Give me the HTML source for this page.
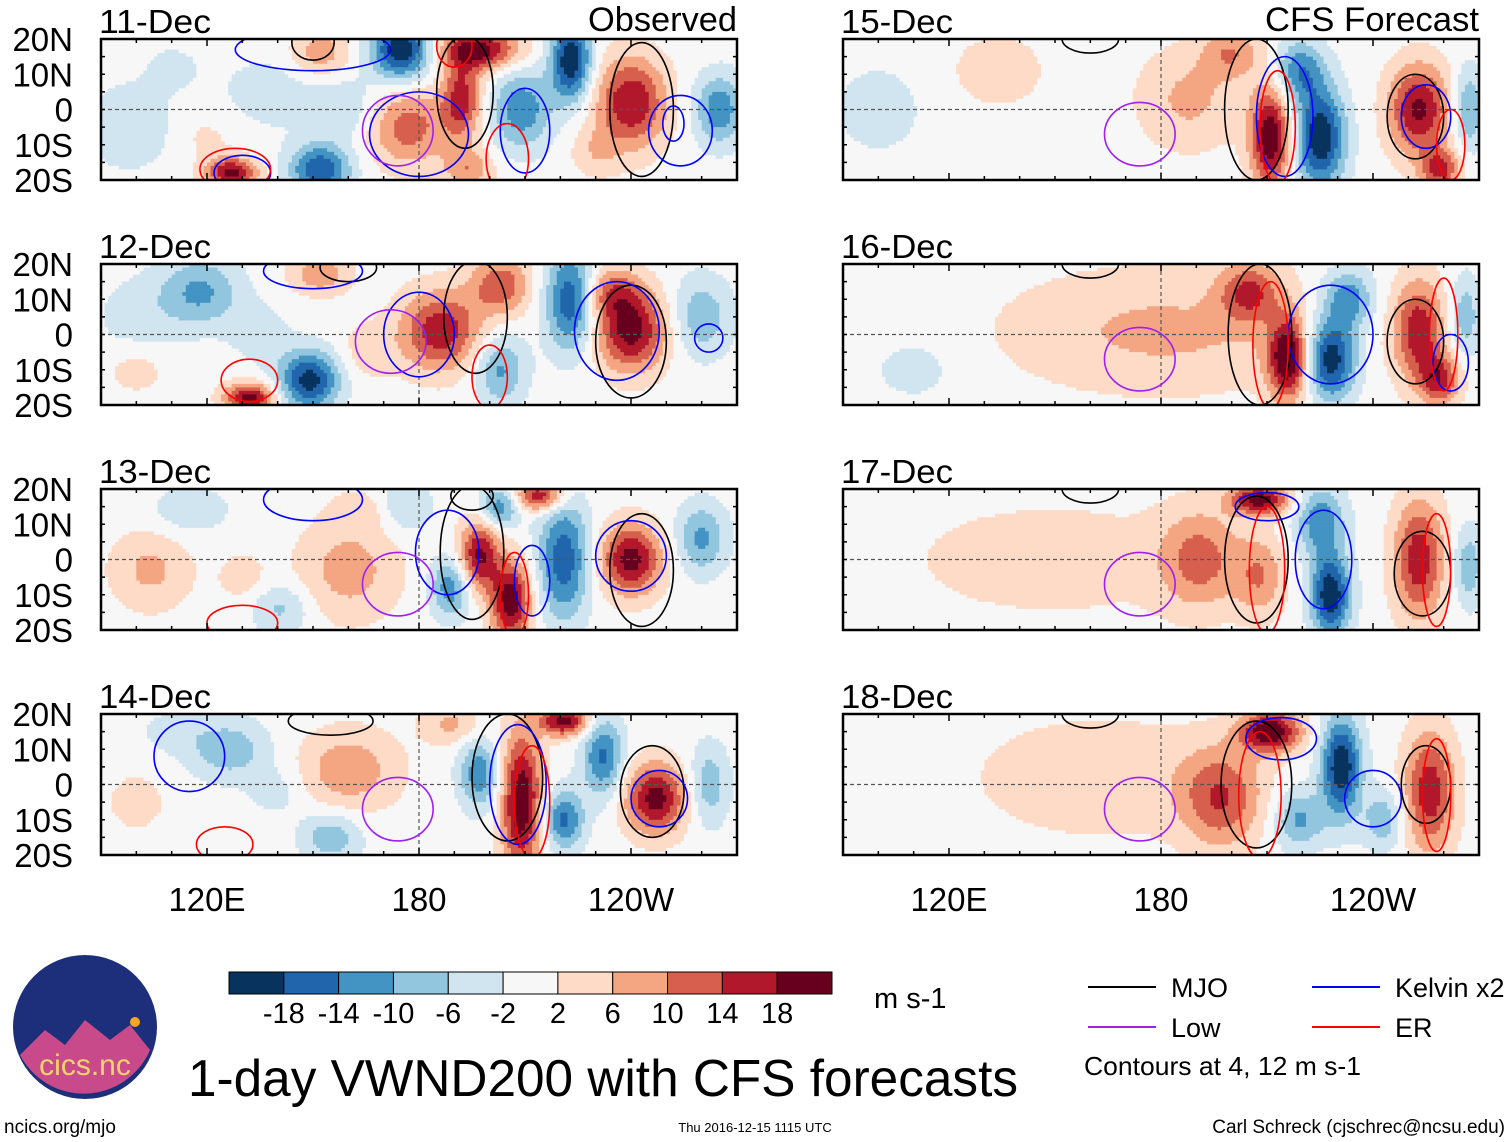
<!DOCTYPE html>
<html><head><meta charset="utf-8"><style>
body{margin:0;background:#fff;width:1510px;height:1142px;position:relative;overflow:hidden;font-family:"Liberation Sans",sans-serif;}
</style></head><body>
<svg id="svg" width="1510" height="1142" style="position:absolute;left:0;top:0"></svg>
<script>
// Colorbar levels and colors
const levels=[-18,-14,-10,-6,-2,2,6,10,14,18];
const colors=['#08335e','#2166ac','#4393c3','#92c5de','#d1e5f0','#f7f7f7','#fddbc7','#f4a582','#d6604d','#b2182b','#67001f'];
const lonTicks=[120,180,240];
const lonTickLabels=['120E','180','120W'];
const latTicks=[20,10,0,-10,-20];
const latTickLabels=['20N','10N','0','10S','20S'];
const panelTitles=['11-Dec','12-Dec','13-Dec','14-Dec','15-Dec','16-Dec','17-Dec','18-Dec'];
// anomaly blobs: [lon, lat, amplitude(m/s), sigmaLon, sigmaLat]
const blobs0=[[175,17,-22,6,6],[197,17,20,8,4],[192,3,16,4,8],[177,-5,12,8,8],[223,14,-22,4,8],[209,0,-13,6,8],[240,2,18,7,9],[265,0,-13,5,7],[152,-17,-18,6,5],[127,-18,20,5,3],[98,-5,-6,8,8],[152,16,9,6,5],[194,-17,9,5,4],[140,5,-4,12,8],[120,-8,3,6,5],[110,12,-3,6,5],[160,0,-5,6,6],[230,-12,5,5,5]];
const blobs1=[[118,12,-11,8,7],[186,1,17,8,8],[203,14,13,6,6],[223,10,-18,5,10],[203,-10,-11,5,7],[240,1,20,7,8],[234,12,11,6,5],[260,5,-9,6,8],[149,-13,-20,6,6],[132,-18,20,5,3],[152,17,9,6,4],[100,5,-4,8,8],[100,-10,4,6,5],[165,-5,4,6,6],[135,0,-4,6,6]];
const blobs2=[[197,1,19,4,7],[206,-12,21,4,8],[189,-8,-13,4,6],[221,0,-17,5,12],[240,0,20,6,7],[260,6,-11,5,7],[214,18,18,5,3],[203,15,-13,4,4],[160,-3,8,10,10],[175,15,-7,6,5],[141,-14,-7,6,5],[104,-3,7,8,8],[115,14,-5,8,5],[130,-5,4,5,5],[165,14,5,6,4]];
const blobs3=[[209,-5,22,4,14],[221,18,20,5,3],[197,3,-13,4,7],[232,8,-15,4,8],[221,-10,-15,4,6],[247,-4,20,6,7],[262,0,-9,4,8],[160,4,9,10,8],[126,10,-9,8,6],[155,-15,-9,6,5],[189,17,7,6,4],[100,-5,4,6,6],[140,-2,-4,6,5],[110,15,-4,6,4]];
const blobs4=[[211,-8,22,4,10],[225,-8,-22,5,10],[219,11,-13,5,6],[253,0,19,6,9],[259,-17,15,4,4],[267,0,-11,3,8],[188,3,7,10,10],[134,11,4,10,8],[100,0,-5,8,8],[200,16,9,6,5]];
const blobs5=[[216,-7,22,4,8],[228,-7,-22,5,8],[233,10,-13,5,6],[205,12,13,6,6],[253,1,17,5,10],[259,-13,15,4,5],[180,1,7,30,12],[266,5,-9,3,8],[110,-10,-4,8,6]];
const blobs6=[[208,17,20,6,3],[228,-10,-22,4,8],[225,11,-13,5,7],[191,0,11,8,10],[253,0,17,5,12],[208,-5,9,5,8],[149,0,4,30,12],[267,-2,-9,3,8]];
const blobs7=[[211,15,22,6,4],[231,5,-22,4,10],[219,-10,-11,5,6],[197,-4,13,8,10],[256,-2,17,5,12],[163,2,5,25,12],[243,-10,-9,4,6]];
const allBlobs=[blobs0,blobs1,blobs2,blobs3,blobs4,blobs5,blobs6,blobs7];
// contours: [type, lon, lat, radiusLon, radiusLat]
const cont0=[['mjo',243,0,9,19],['mjo',193,5,8,16],['mjo',150,19,6,5],['kelvin',180,-7,14,12],['kelvin',210,-6,7,12],['kelvin',254,-6,9,10],['kelvin',252,-4,3,5],['kelvin',150,17,22,6],['kelvin',130,-18,8,5],['low',174,-6,10,10],['er',205,-14,6,10],['er',128,-17,10,6],['er',190,18,5,6]];
const cont1=[['mjo',240,-2,10,16],['mjo',196,5,9,16],['mjo',160,19,8,4],['kelvin',180,0,10,12],['kelvin',236,1,12,14],['kelvin',262,-1,4,4],['kelvin',150,18,14,5],['low',172,-2,10,9],['er',132,-13,8,6],['er',200,-12,5,9]];
const cont2=[['mjo',243,-3,9,16],['mjo',195,2,9,19],['mjo',195,18,6,4],['kelvin',188,2,9,12],['kelvin',240,1,10,10],['kelvin',150,17,14,6],['kelvin',212,-6,5,10],['low',174,-7,10,9],['er',207,-10,4,12],['er',130,-18,10,5]];
const cont3=[['mjo',246,-2,9,13],['mjo',205,2,10,18],['mjo',155,18,12,4],['kelvin',208,0,8,17],['kelvin',248,-4,8,8],['kelvin',115,8,10,10],['low',174,-7,10,9],['er',212,-5,5,16],['er',125,-17,8,5]];
const cont4=[['mjo',252,-2,8,12],['mjo',207,0,9,20],['mjo',160,20,8,4],['kelvin',215,-2,8,17],['kelvin',255,-2,7,9],['low',174,-7,10,9],['er',213,-5,5,16],['er',262,-10,4,10]];
const cont5=[['mjo',252,-2,8,12],['mjo',208,0,9,20],['mjo',160,20,8,4],['kelvin',228,0,12,14],['kelvin',262,-8,5,8],['low',174,-7,10,9],['er',211,-3,5,18],['er',260,0,4,16]];
const cont6=[['mjo',254,-4,8,12],['mjo',207,0,9,18],['mjo',160,20,8,4],['kelvin',226,0,8,14],['kelvin',210,15,9,4],['low',174,-7,10,9],['er',210,-3,5,18],['er',258,-3,4,16]];
const cont7=[['mjo',255,0,7,11],['mjo',207,0,10,18],['mjo',160,20,8,4],['kelvin',240,-4,8,8],['kelvin',214,13,10,6],['low',174,-7,10,9],['er',208,-3,6,18],['er',258,-3,4,16]];
const allCont=[cont0,cont1,cont2,cont3,cont4,cont5,cont6,cont7];
const cCol={mjo:'#000',kelvin:'#0000ff',low:'#a020f0',er:'#ff0000'};

const NS='http://www.w3.org/2000/svg';
const svg=document.getElementById('svg');
function mk(tag,attrs,parent){const e=document.createElementNS(NS,tag);for(const k in attrs)e.setAttribute(k,attrs[k]);(parent||svg).appendChild(e);return e;}
const PW=636,PH=141,LON0=90,LON1=270;
const colX=[101,843],rowY=[39,264,489,714];
const FONT='Liberation Sans, sans-serif';
function xS(lon,x0){return x0+(lon-LON0)/(LON1-LON0)*PW;}
function yS(lat,y0){return y0+(20-lat)/40*PH;}
function colorFor(v){let i=0;while(i<levels.length&&v>=levels[i])i++;return colors[i];}

for(let p=0;p<8;p++){
  const x0=colX[p<4?0:1],y0=rowY[p%4];
  const g=mk('g',{});
  
  
  const clipId='clip'+p;
  const cp=mk('clipPath',{id:clipId},g);mk('rect',{x:x0,y:y0,width:PW,height:PH},cp);
  const field=mk('g',{'clip-path':'url(#'+clipId+')'},g);
  
  
  const bl=allBlobs[p];
  const dLon=1,dLat=1;
  for(let lat=20;lat>-20;lat-=dLat){
    let runStart=null,runCol=null;
    for(let lon=LON0;lon<=LON1+dLon;lon+=dLon){
      let v=0;const lc=lon+dLon/2,la=lat-dLat/2;
      for(const b of bl){const dx=(lc-b[0])/b[3],dy=(la-b[1])/b[4];v+=b[2]*Math.exp(-0.5*(dx*dx+dy*dy));}
      const c=lon>=LON1?null:colorFor(v);
      if(c!==runCol){
        if(runCol){const r=mk('rect',{x:xS(runStart,x0).toFixed(1),y:yS(lat,y0).toFixed(1),width:(xS(lon,x0)-xS(runStart,x0)+0.6).toFixed(1),height:(PH*dLat/40+0.6).toFixed(1),fill:runCol},field);
          
          }
        runStart=lon;runCol=c;
      }
    }
  }
  mk('line',{x1:x0,x2:x0+PW,y1:yS(0,y0),y2:yS(0,y0),stroke:'#555','stroke-dasharray':'4,3','stroke-width':1.2},g);
  mk('line',{x1:xS(180,x0),x2:xS(180,x0),y1:y0,y2:y0+PH,stroke:'#555','stroke-dasharray':'4,3','stroke-width':1.2},g);
  for(const c of allCont[p]){
    const e=mk('ellipse',{cx:xS(c[1],x0),cy:yS(c[2],y0),rx:c[3]/(LON1-LON0)*PW,ry:c[4]/40*PH,fill:'none',stroke:cCol[c[0]],'stroke-width':1.6,'clip-path':'url(#'+clipId+')'},g);
    
    
  }
  mk('rect',{x:x0,y:y0,width:PW,height:PH,fill:'none',stroke:'#000','stroke-width':2.5},g);
  for(let lon=LON0;lon<=LON1;lon+=10){const X=xS(lon,x0);const L=(lon%60===0)?7:4;
    mk('line',{x1:X,x2:X,y1:y0,y2:y0+L,stroke:'#000','stroke-width':1.5},g);
    mk('line',{x1:X,x2:X,y1:y0+PH,y2:y0+PH-L,stroke:'#000','stroke-width':1.5},g);}
  for(let la=-20;la<=20;la+=5){const Y=yS(la,y0);mk('line',{x1:x0,x2:x0+4,y1:Y,y2:Y,stroke:'#000','stroke-width':1.5},g);mk('line',{x1:x0+PW,x2:x0+PW-4,y1:Y,y2:Y,stroke:'#000','stroke-width':1.5},g);}
  const t=mk('text',{x:x0-2,y:y0-6,'font-size':33,'font-family':FONT,textLength:112,lengthAdjust:'spacingAndGlyphs'},g);t.textContent=panelTitles[p];
  
  
  if(p<4){latTicks.forEach((la,i)=>{const tt=mk('text',{x:73,y:yS(la,y0)+12,'font-size':33,'text-anchor':'end','font-family':FONT},g);tt.textContent=latTickLabels[i];
    
    });}
}
[['Observed',737,149],['CFS Forecast',1479,214]].forEach(h=>{const t=mk('text',{x:h[1]-h[2],y:31,'font-size':34,'font-family':FONT,textLength:h[2],lengthAdjust:'spacingAndGlyphs'});t.textContent=h[0];
  
  });
colX.forEach(x0=>lonTicks.forEach((lon,i)=>{const t=mk('text',{x:xS(lon,x0),y:911,'font-size':33,'text-anchor':'middle','font-family':FONT});t.textContent=lonTickLabels[i];
  
  }));
const cb=mk('g',{});


const cbx=229,cbw=603/colors.length;
colors.forEach((c,i)=>{mk('rect',{x:cbx+i*cbw,y:972,width:cbw,height:22,fill:c,stroke:'#000','stroke-width':1},cb);});
levels.forEach((l,i)=>{const t=mk('text',{x:cbx+(i+1)*cbw,y:1023,'font-size':29,'text-anchor':'middle','font-family':FONT},cb);t.textContent=l;});
const u=mk('text',{x:874,y:1008,'font-size':29,'font-family':FONT});u.textContent='m s-1';

const lg=mk('g',{});


[['MJO','#000',1088,987],['Kelvin x2','#0000ff',1312,987],['Low','#a020f0',1088,1027],['ER','#ff0000',1312,1027]].forEach(e=>{
  mk('line',{x1:e[2],x2:e[2]+68,y1:e[3],y2:e[3],stroke:e[1],'stroke-width':2},lg);
  const t=mk('text',{x:e[2]+83,y:e[3]+10,'font-size':27,'font-family':FONT},lg);t.textContent=e[0];});
const ct=mk('text',{x:1084,y:1075,'font-size':26,'font-family':FONT,textLength:277,lengthAdjust:'spacingAndGlyphs'});ct.textContent='Contours at 4, 12 m s-1';
const ti=mk('text',{x:188,y:1096,'font-size':52,'font-family':FONT,textLength:830,lengthAdjust:'spacingAndGlyphs'});ti.textContent='1-day VWND200 with CFS forecasts';

const f1=mk('text',{x:4,y:1133,'font-size':19,'font-family':FONT});f1.textContent='ncics.org/mjo';
const f2=mk('text',{x:755,y:1132,'font-size':13,'text-anchor':'middle','font-family':FONT});f2.textContent='Thu 2016-12-15 1115 UTC';
const f3=mk('text',{x:1505,y:1133,'font-size':19,'text-anchor':'end','font-family':FONT});f3.textContent='Carl Schreck (cjschrec@ncsu.edu)';
const lo=mk('g',{});


mk('circle',{cx:85,cy:1027,r:72,fill:'#1d2f7a'},lo);
mk('path',{d:'M20,1055 L45,1030 L65,1045 L85,1020 L110,1040 L130,1025 L150,1050 A72,72 0 0 1 20,1055Z',fill:'#c94a8a'},lo);
mk('circle',{cx:135,cy:1022,r:5,fill:'#f5a623'},lo);
const lt=mk('text',{x:85,y:1075,'font-size':30,'text-anchor':'middle',fill:'#f3d36b','font-family':FONT},lo);lt.textContent='cics.nc';
</script>
</body></html>
